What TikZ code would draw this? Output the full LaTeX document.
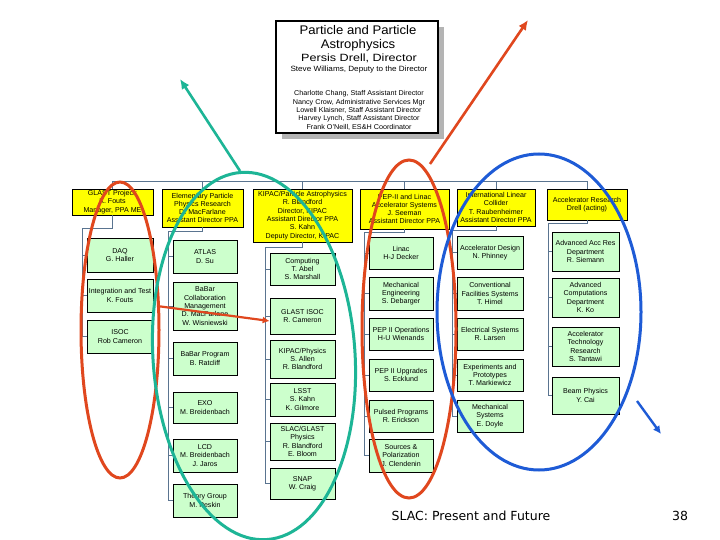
\documentclass[tikz,border=0pt]{standalone}
\usepackage{fontspec}
\setmainfont{Liberation Sans}
\newfontfamily\footfont{DejaVu Sans}
\usetikzlibrary{arrows.meta}
\definecolor{gfill}{HTML}{CCFFCC}
\definecolor{yfill}{HTML}{FFFF00}
\definecolor{conncol}{HTML}{5A7490}
\definecolor{redc}{HTML}{E0471E}
\definecolor{tealc}{HTML}{1DB596}
\definecolor{bluec}{HTML}{1E5BD6}
\definecolor{shadowc}{HTML}{B4B4B4}
\tikzset{
  gbox/.style={draw=black, fill=gfill, line width=0.7pt, inner sep=0pt, align=center,
    font=\fontsize{7.1}{8.3}\selectfont},
  ybox/.style={draw=black, fill=yfill, line width=0.7pt, inner sep=0pt, align=center,
    font=\fontsize{7.1}{8.3}\selectfont},
  conn/.style={draw=conncol, line width=0.6pt},
  ell/.style={line width=3pt},
  arr/.style={line width=2.6pt, -{Latex[length=10pt,width=9pt]}},
  tline/.style={inner sep=0pt, anchor=center}
}
\newcommand\gbx[6]{\node[gbox,minimum width=#4pt,minimum height=#5pt] (#1) at (#2,#3) {#6};}
\newcommand\ybx[6]{\node[ybox,minimum width=#4pt,minimum height=#5pt] (#1) at (#2,#3) {#6};}
\begin{document}
\begin{tikzpicture}[x=1pt,y=-1pt]
\useasboundingbox (0,0) rectangle (720,540);
\fill[white] (0,0) rectangle (720,540);

% top box
\fill[shadowc] (282,27) rectangle (444,139);
\node[draw=black, fill=white, line width=1.2pt, minimum width=162pt, minimum height=112pt, inner sep=0pt] (ppa) at (357,77) {};
\node[tline, font=\fontsize{12.5}{13}\selectfont] (t1) at (358,30) {\scalebox{1.05}[1]{Particle and Particle}};
\node[tline, font=\fontsize{12.5}{13}\selectfont] (t2) at (358,45) {\scalebox{1.05}[1]{Astrophysics}};
\node[tline, font=\fontsize{10.5}{11}\selectfont] (t3) at (359,58) {\scalebox{1.2}[1]{Persis Drell, Director}};
\node[tline, font=\fontsize{7.6}{8}\selectfont] (t4) at (359,69.5) {\scalebox{1.07}[1]{Steve Williams, Deputy to the Director}};
\node[tline, font=\fontsize{7}{8}\selectfont] (t5) at (359,94) {\scalebox{1.03}[1]{Charlotte Chang, Staff Assistant Director}};
\node[tline, font=\fontsize{7}{8}\selectfont] (t6) at (359,102.3) {\scalebox{1.03}[1]{Nancy Crow, Administrative Services Mgr}};
\node[tline, font=\fontsize{7}{8}\selectfont] (t7) at (359,110.7) {\scalebox{1.03}[1]{Lowell Klaisner, Staff Assistant Director}};
\node[tline, font=\fontsize{7}{8}\selectfont] (t8) at (359,118.5) {\scalebox{1.03}[1]{Harvey Lynch, Staff Assistant Director}};
\node[tline, font=\fontsize{7}{8}\selectfont] (t9) at (359,127.3) {\scalebox{1.03}[1]{Frank O'Neill, ES\&H Coordinator}};

% header boxes
\ybx{glast}{112.5}{202}{81}{26}{GLAST Project:\\K. Fouts\\Manager, PPA ME}
\ybx{elem}{202.5}{208}{81}{38}{Elementary Particle\\Physics Research\\D. MacFarlane\\Assistant Director PPA}
\ybx{kipac}{302.5}{215.5}{99}{53}{KIPAC/Particle Astrophysics\\R. Blandford\\Director, KIPAC\\Assistant Director PPA\\S. Kahn\\Deputy Director, KIPAC}
\ybx{pep}{404.5}{209}{89}{40}{PEP-II and Linac\\Accelerator Systems\\J. Seeman\\Assistant Director PPA}
\ybx{ilc}{496}{207.5}{78}{37}{International Linear\\Collider\\T. Raubenheimer\\Assistant Director PPA}
\ybx{accres}{587}{204.5}{80}{31}{Accelerator Research\\Drell (acting)}

% column 1
\gbx{daq}{120}{255}{66}{34}{DAQ\\G. Haller}
\gbx{integ}{120}{295.5}{66}{33}{Integration and Test\\K. Fouts}
\gbx{isoc}{120}{336.5}{66}{33}{ISOC\\Rob Cameron}
% column 2
\gbx{atlas}{205}{256.5}{64}{33}{ATLAS\\D. Su}
\gbx{babarc}{205}{306}{64}{48}{BaBar\\Collaboration\\Management\\D. MacFarlane\\W. Wisniewski}
\gbx{babarp}{205}{358.5}{64}{33}{BaBar Program\\B. Ratcliff}
\gbx{exo}{205}{407.5}{64}{31}{EXO\\M. Breidenbach}
\gbx{lcd}{205}{455.5}{64}{33}{LCD\\M. Breidenbach\\J. Jaros}
\gbx{theory}{205}{500.5}{64}{33}{Theory Group\\M. Peskin}
% column 3
\gbx{comp}{302.5}{269}{65}{32}{Computing\\T. Abel\\S. Marshall}
\gbx{gisoc}{302.5}{316}{65}{36}{GLAST ISOC\\R. Cameron}
\gbx{kphys}{302.5}{359}{65}{38}{KIPAC/Physics\\S. Allen\\R. Blandford}
\gbx{lsst}{302.5}{399.5}{65}{33}{LSST\\S. Kahn\\K. Gilmore}
\gbx{sgphys}{302.5}{441.5}{65}{37}{SLAC/GLAST\\Physics\\R. Blandford\\E. Bloom}
\gbx{snap}{302.5}{483.5}{65}{31}{SNAP\\W. Craig}
% column 4
\gbx{linac}{401}{253}{64}{32}{Linac\\H-J Decker}
\gbx{mecheng}{401}{293.5}{64}{33}{Mechanical\\Engineering\\S. Debarger}
\gbx{pepops}{401}{334}{64}{32}{PEP II Operations\\H-U Wienands}
\gbx{pepup}{401}{375}{64}{32}{PEP II Upgrades\\S. Ecklund}
\gbx{pulsed}{401}{416}{64}{32}{Pulsed Programs\\R. Erickson}
\gbx{sources}{401}{455.5}{64}{33}{Sources \&\\Polarization\\J. Clendenin}
% column 5
\gbx{accdes}{490}{252.5}{66}{33}{Accelerator Design\\N. Phinney}
\gbx{convfac}{490}{293.5}{66}{33}{Conventional\\Facilities Systems\\T. Himel}
\gbx{elec}{490}{334}{66}{32}{Electrical Systems\\R. Larsen}
\gbx{expt}{490}{375}{66}{32}{Experiments and\\Prototypes\\T. Markiewicz}
\gbx{mechsys}{490}{416}{66}{32}{Mechanical\\Systems\\E. Doyle}
% column 6
\gbx{aard}{585.5}{251.5}{67}{39}{Advanced Acc Res\\Department\\R. Siemann}
\gbx{acd}{585.5}{297.5}{67}{39}{Advanced\\Computations\\Department\\K. Ko}
\gbx{atr}{585.5}{346.5}{67}{39}{Accelerator\\Technology\\Research\\S. Tantawi}
\gbx{beam}{585.5}{395.5}{67}{37}{Beam Physics\\Y. Cai}

% bus to header boxes
\draw[conn] (glast.north) -- ++(0,-7) -| (accres.north);
\foreach \h in {elem,kipac,pep,ilc} \draw[conn] (\h.north) -- ++(0,-7);

% spines
\draw[conn] (glast.south) -- ++(0,13) -| ([xshift=-4pt]isoc.west) -- (isoc.west);
\foreach \c in {daq,integ} \draw[conn] (\c.west) -- ++(-4,0);
\draw[conn] (elem.south) -- ++(0,4) -| ([xshift=-4pt]theory.west) -- (theory.west);
\foreach \c in {atlas,babarc,babarp,exo,lcd} \draw[conn] (\c.west) -- ++(-4,0);
\draw[conn] (kipac.south) -- ++(0,5) -| ([xshift=-4pt]snap.west) -- (snap.west);
\foreach \c in {comp,gisoc,kphys,lsst,sgphys} \draw[conn] (\c.west) -- ++(-4,0);
\draw[conn] (pep.south) -- ++(0,3) -| ([xshift=-4pt]sources.west) -- (sources.west);
\foreach \c in {linac,mecheng,pepops,pepup,pulsed} \draw[conn] (\c.west) -- ++(-4,0);
\draw[conn] (ilc.south) -- ++(0,4) -| ([xshift=-4pt]mechsys.west) -- (mechsys.west);
\foreach \c in {accdes,convfac,elec,expt} \draw[conn] (\c.west) -- ++(-4,0);
\draw[conn] (accres.south) -- ++(0,3) -| ([xshift=-3pt]beam.west) -- (beam.west);
\foreach \c in {aard,acd,atr} \draw[conn] (\c.west) -- ++(-3,0);

% ellipses
\coordinate (ce1) at (120,330);
\coordinate (ce2) at (254,356);
\coordinate (ce3) at (409,329);
\coordinate (ce4) at (539,312);
\draw[ell, redc] (ce1) ellipse [x radius=39, y radius=148];
\draw[ell, tealc, rotate around={4:(ce2)}] (ce2) ellipse [x radius=101, y radius=184];
\draw[ell, redc] (ce3) ellipse [x radius=47, y radius=169];
\draw[ell, bluec] (ce4) ellipse [x radius=102, y radius=158];

% arrows
\coordinate (a1s) at (240,171);
\coordinate (a1e) at (180,79);
\coordinate (a2s) at (430,164);
\coordinate (a2e) at (528,20);
\coordinate (a3s) at (157,306);
\coordinate (a4s) at (637,401);
\coordinate (a4e) at (661,434);
\draw[arr, tealc] (a1s) -- (a1e);
\draw[arr, redc] (a2s) -- (a2e);
\draw[arr, redc, -{Latex[length=7pt,width=7pt]}, line width=2.2pt] (a3s) -- ([yshift=-5pt]gisoc.west);
\draw[arr, bluec, -{Latex[length=8pt,width=8pt]}, line width=2.4pt] (a4s) -- (a4e);

% footer
\node[tline, font=\footfont\fontsize{12.5}{14}\selectfont] (foot) at (471,516) {SLAC: Present and Future};
\node[tline, font=\footfont\fontsize{12.5}{14}\selectfont] (pnum) at (680,516) {38};
\end{tikzpicture}
\end{document}
